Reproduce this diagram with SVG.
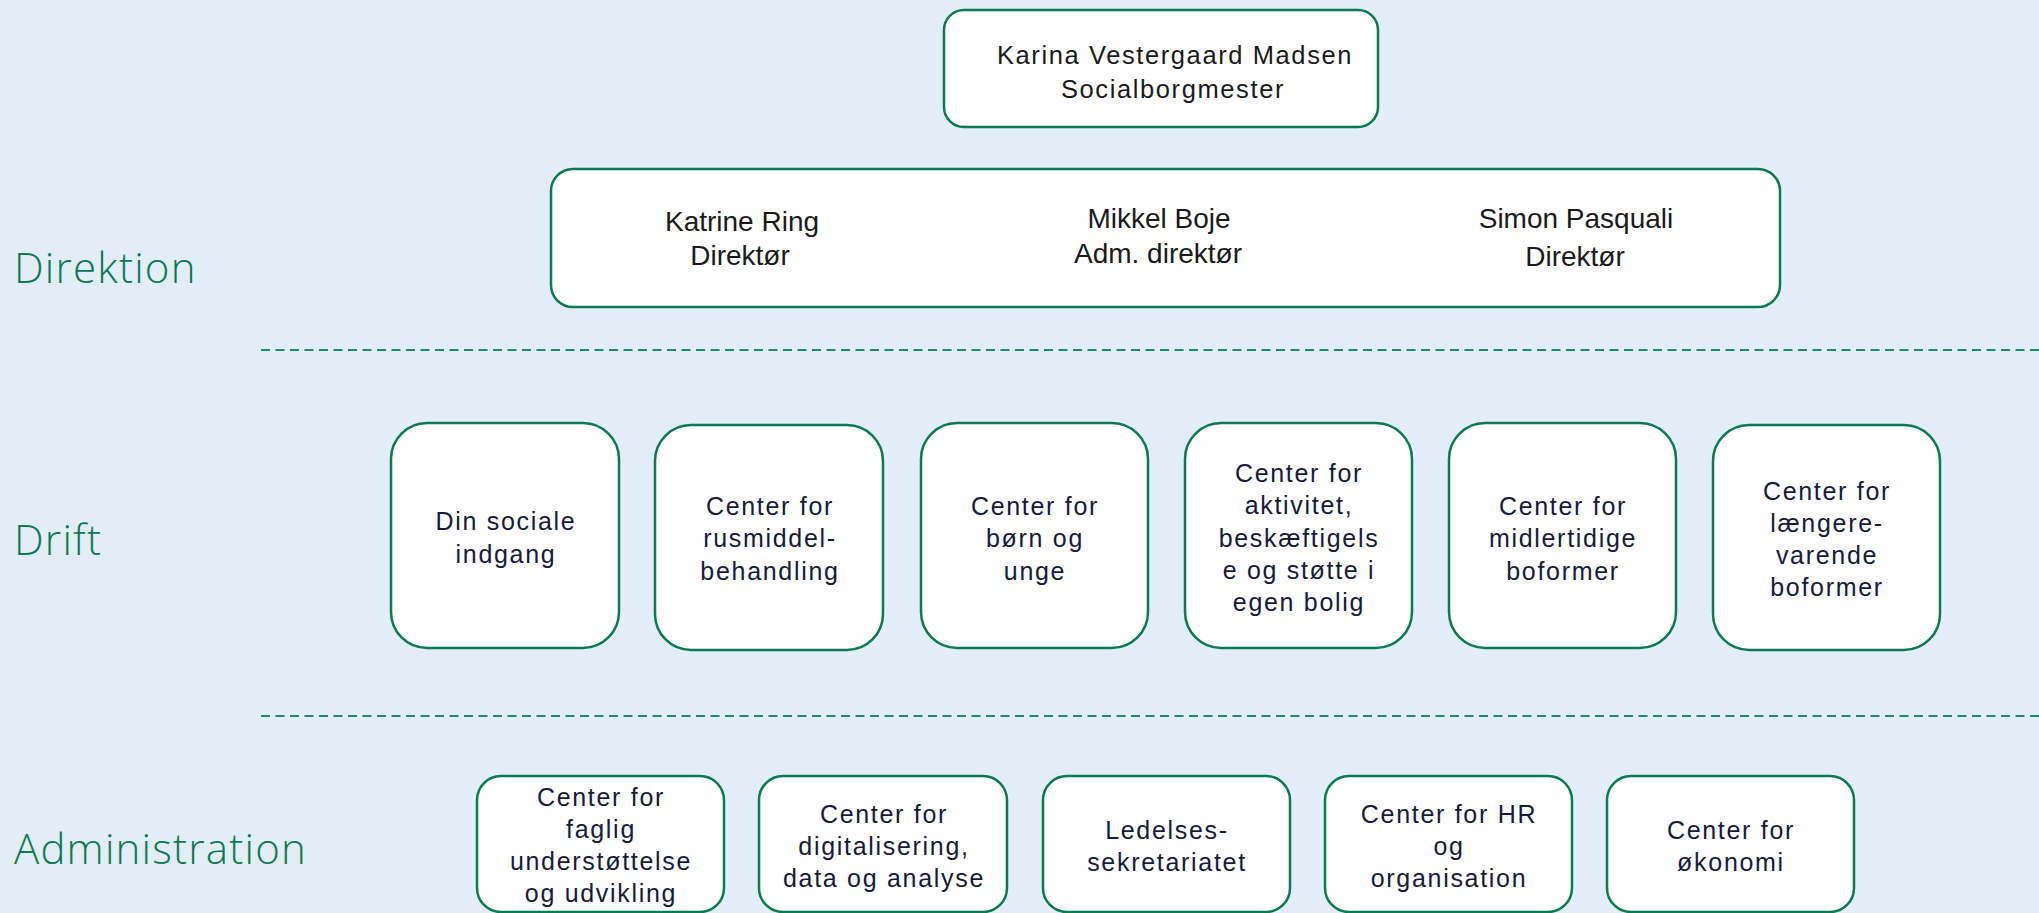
<svg xmlns="http://www.w3.org/2000/svg" width="2039" height="913" viewBox="0 0 2039 913">
<style>
.box{fill:#ffffff;stroke:#0b7a50;stroke-width:2.5}
.t{font-family:"Liberation Sans",Arial,sans-serif;font-size:25px;letter-spacing:1.7px;fill:#161a3b;text-anchor:middle}
.d{font-family:"Liberation Sans",Arial,sans-serif;font-size:28px;fill:#1a1a1a;text-anchor:middle}
.k{font-family:"Liberation Sans",Arial,sans-serif;font-size:25.5px;letter-spacing:1.6px;fill:#1a1a1a;text-anchor:middle}
.lbl{font-family:"Open Sans","Liberation Sans",sans-serif;font-weight:300;font-size:42px;letter-spacing:1.2px;fill:#0b7a50}
.sep{stroke:#1f8a66;stroke-width:1.8;stroke-dasharray:9 5.5;fill:none}
</style>
<rect x="0" y="0" width="2039" height="913" fill="#e2edf7"/>
<g id="labels">
<text class="lbl" x="14" y="283">Direktion</text>
<text class="lbl" x="14" y="555">Drift</text>
<text class="lbl" x="14" y="864">Administration</text>
</g>
<g id="connectors">
<line class="sep" x1="261" y1="350" x2="2039" y2="350"/>
<line class="sep" x1="261" y1="716" x2="2039" y2="716"/>
</g>
<g id="socialborgmester">
<rect class="box" x="944" y="10" width="434" height="117" rx="20"/>
<text class="k" x="1175" y="64">Karina Vestergaard Madsen</text>
<text class="k" x="1173" y="98">Socialborgmester</text>
</g>
<g id="direktion">
<rect class="box" x="551" y="169" width="1229" height="138" rx="22"/>
<text class="d" x="742" y="231">Katrine Ring</text>
<text class="d" x="740" y="265">Direktør</text>
<text class="d" x="1159" y="228">Mikkel Boje</text>
<text class="d" x="1158" y="263">Adm. direktør</text>
<text class="d" x="1576" y="228">Simon Pasquali</text>
<text class="d" x="1575" y="266">Direktør</text>
</g>
<g id="drift1">
<rect class="box" x="391" y="423" width="228" height="225" rx="36"/>
<text class="t" x="506" y="530">Din sociale</text>
<text class="t" x="506" y="563">indgang</text>
</g>
<g id="drift2">
<rect class="box" x="655" y="425" width="228" height="225" rx="36"/>
<text class="t" x="770" y="515">Center for</text>
<text class="t" x="770" y="547">rusmiddel-</text>
<text class="t" x="770" y="580">behandling</text>
</g>
<g id="drift3">
<rect class="box" x="921" y="423" width="227" height="225" rx="36"/>
<text class="t" x="1035" y="515">Center for</text>
<text class="t" x="1035" y="547">børn og</text>
<text class="t" x="1035" y="580">unge</text>
</g>
<g id="drift4">
<rect class="box" x="1185" y="423" width="227" height="225" rx="36"/>
<text class="t" x="1299" y="482">Center for</text>
<text class="t" x="1299" y="514">aktivitet,</text>
<text class="t" x="1299" y="547">beskæftigels</text>
<text class="t" x="1299" y="579">e og støtte i</text>
<text class="t" x="1299" y="611">egen bolig</text>
</g>
<g id="drift5">
<rect class="box" x="1449" y="423" width="227" height="225" rx="36"/>
<text class="t" x="1563" y="515">Center for</text>
<text class="t" x="1563" y="547">midlertidige</text>
<text class="t" x="1563" y="580">boformer</text>
</g>
<g id="drift6">
<rect class="box" x="1713" y="425" width="227" height="225" rx="36"/>
<text class="t" x="1827" y="500">Center for</text>
<text class="t" x="1827" y="532">længere-</text>
<text class="t" x="1827" y="564">varende</text>
<text class="t" x="1827" y="596">boformer</text>
</g>
<g id="admin1">
<rect class="box" x="477" y="776" width="247" height="136" rx="24"/>
<text class="t" x="601" y="806">Center for</text>
<text class="t" x="601" y="838">faglig</text>
<text class="t" x="601" y="870">understøttelse</text>
<text class="t" x="601" y="902">og udvikling</text>
</g>
<g id="admin2">
<rect class="box" x="759" y="776" width="248" height="136" rx="24"/>
<text class="t" x="884" y="823">Center for</text>
<text class="t" x="884" y="855">digitalisering,</text>
<text class="t" x="884" y="887">data og analyse</text>
</g>
<g id="admin3">
<rect class="box" x="1043" y="776" width="247" height="136" rx="24"/>
<text class="t" x="1167" y="839">Ledelses-</text>
<text class="t" x="1167" y="871">sekretariatet</text>
</g>
<g id="admin4">
<rect class="box" x="1325" y="776" width="247" height="136" rx="24"/>
<text class="t" x="1449" y="823">Center for HR</text>
<text class="t" x="1449" y="855">og</text>
<text class="t" x="1449" y="887">organisation</text>
</g>
<g id="admin5">
<rect class="box" x="1607" y="776" width="247" height="136" rx="24"/>
<text class="t" x="1731" y="839">Center for</text>
<text class="t" x="1731" y="871">økonomi</text>
</g>
</svg>
